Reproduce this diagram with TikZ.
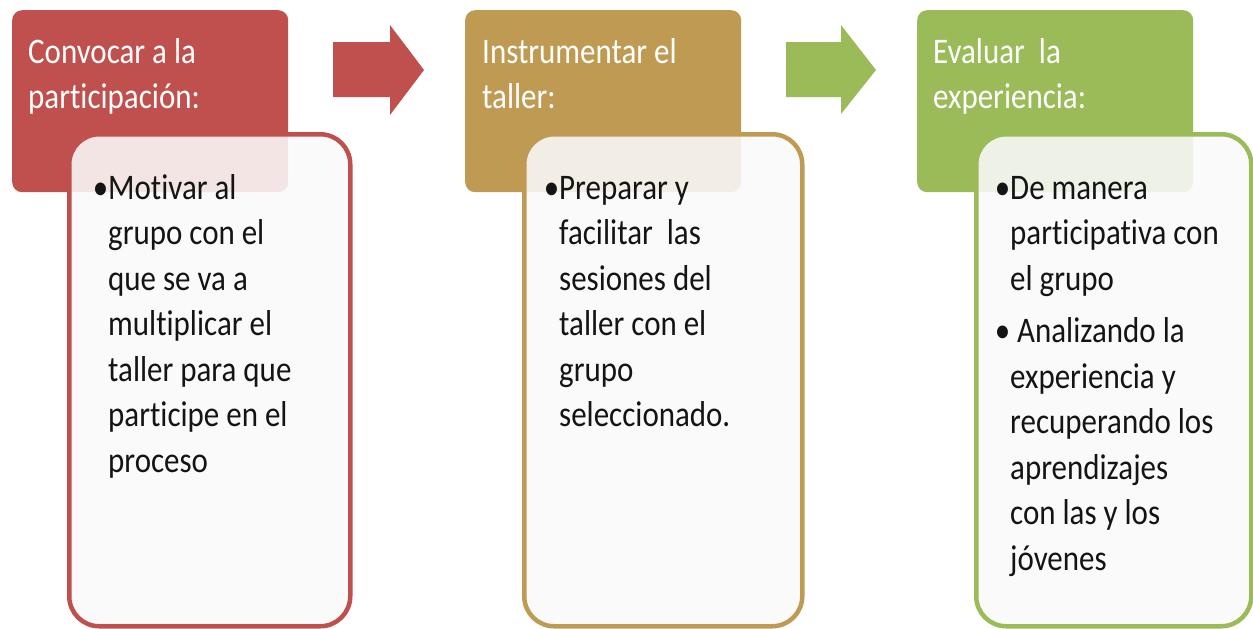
\documentclass[tikz,border=0pt]{standalone}
\usepackage{fontspec}
\newfontfamily\calfont[FakeStretch=0.86,Ligatures=NoCommon]{Carlito}
\definecolor{cred}{HTML}{C0504D}
\definecolor{cgold}{HTML}{BE9A52}
\definecolor{cgreen}{HTML}{9BBB59}
\definecolor{bodyfill}{HTML}{FAFAFA}
\begin{document}
\begin{tikzpicture}[x=1pt,y=-1pt,
  head/.style={rounded corners=10pt, minimum width=276pt, minimum height=182pt, inner sep=0pt, anchor=north west, draw=none},
  body/.style={rounded corners=30pt, line width=4.5pt, fill=bodyfill, fill opacity=0.88, minimum height=492pt, inner sep=0pt, anchor=north west},
  htext/.style={anchor=base west, inner sep=0pt, text=white, align=left, font=\calfont\fontsize{36}{45}\selectfont},
  btext/.style={anchor=base west, inner sep=0pt, text=black!92, align=left, font=\calfont\fontsize{36}{45.5}\selectfont}]
\useasboundingbox (0,0) rectangle (1253,629);
\fill[white] (0,0) rectangle (1253,629);
% headers
\node[head, fill=cred]   (h1) at (12,10)  {};
\node[head, fill=cgold]  (h2) at (465,10) {};
\node[head, fill=cgreen] (h3) at (917,10) {};
% header texts (anchored at the baseline of their last line)
\node[htext] (t1) at (28,108)  {Convocar a la\\participación:};
\node[htext] (t2) at (482,108) {Instrumentar el\\taller:};
\node[htext] (t3) at (933,108) {Evaluar\ \ la\\experiencia:};
% bodies
\node[body, draw=cred,   minimum width=281pt] (b1) at (67,132)  {};
\node[body, draw=cgold,  minimum width=278pt] (b2) at (522,132) {};
\node[body, draw=cgreen, minimum width=275pt] (b3) at (974,132) {};
% body texts (anchored at the baseline of their last line)
\node[btext] (bt1) at (108,472) {\llap{•}Motivar al\\grupo con el\\que se va a\\multiplicar el\\taller para que\\participe en el\\proceso};
\node[btext] (bt2) at (559,426.5) {\llap{•}Preparar y\\facilitar\ \ las\\sesiones del\\taller con el\\grupo\\seleccionado.};
\node[btext] (bt3) at (1010,570) {\llap{•}De manera\\participativa con\\el grupo\\[7pt]\llap{•}\ Analizando la\\experiencia y\\recuperando los\\aprendizajes\\con las y los\\jóvenes};
% block arrows
\fill[cred] (333,42) -- (390,42) -- (390,25) -- (424,70) -- (390,115) -- (390,97) -- (333,97) -- cycle;
\fill[cgreen] (786,42) -- (841,42) -- (841,25) -- (876,70) -- (841,114) -- (841,97) -- (786,97) -- cycle;
\end{tikzpicture}
\end{document}
